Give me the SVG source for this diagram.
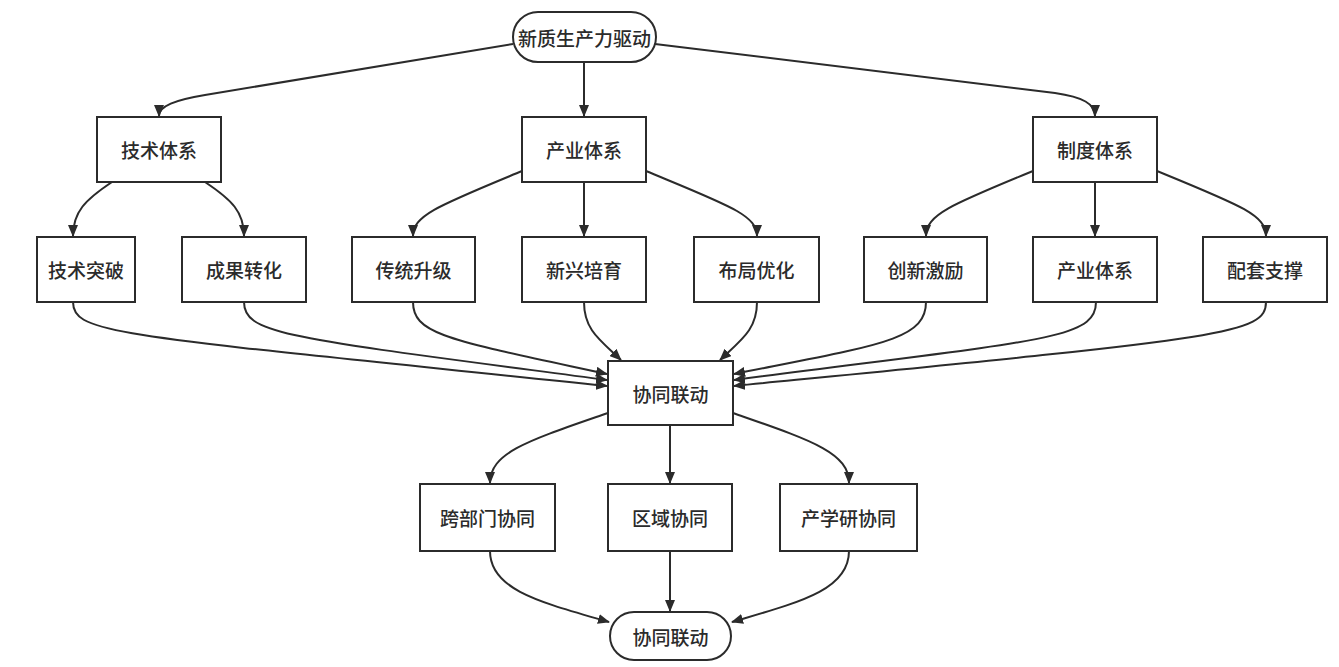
<svg xmlns="http://www.w3.org/2000/svg" width="1339" height="667" viewBox="0 0 1339 667">
<defs>
<marker id="ah" markerUnits="userSpaceOnUse" markerWidth="12" markerHeight="10" refX="11" refY="5" orient="auto">
<path d="M0,0 L12,5 L0,10 z" fill="#2b2b2b"/>
</marker>
<style>
.n rect{fill:#fff;stroke:#2b2b2b;stroke-width:2}
.n text{font-family:"Noto Sans CJK SC","Noto Sans",sans-serif;font-size:19px;font-weight:500;fill:#2b2b2b;text-anchor:middle;dominant-baseline:central}
.e path{fill:none;stroke:#2b2b2b;stroke-width:2;marker-end:url(#ah)}
</style>
</defs>
<rect width="1339" height="667" fill="#fff"/>
<g class="e" id="connectors">
<path d="M513,44 L205,95 C175,100 159,106 159,116"/>
<path d="M584,62 V116"/>
<path d="M655,44 L1055,93 C1083,97 1095,104 1095,116"/>
<path d="M112,182 C85,200 73,212 73,236"/>
<path d="M205,182 C232,200 244,212 244,236"/>
<path d="M522,171 C440,205 413,215 413,236"/>
<path d="M584,182 V236"/>
<path d="M646,171 C728,205 757,215 757,236"/>
<path d="M1033,171 C950,205 926,215 926,236"/>
<path d="M1095,182 V236"/>
<path d="M1157,171 C1240,205 1266,215 1266,236"/>
<path d="M73,302 C73,335 120,335 607,386"/>
<path d="M244,302 C244,335 290,338 607,380"/>
<path d="M413,302 C413,335 450,340 607,374"/>
<path d="M584,302 C584,330 600,340 621,360"/>
<path d="M757,302 C757,330 741,340 720,360"/>
<path d="M926,302 C926,340 880,345 734,374"/>
<path d="M1096,302 C1096,340 1040,340 734,380"/>
<path d="M1266,302 C1266,335 1220,338 734,386"/>
<path d="M608,413 C530,440 490,452 490,483"/>
<path d="M670,425 V483"/>
<path d="M733,413 C810,440 849,452 849,483"/>
<path d="M490,551 C490,590 540,602 609,622"/>
<path d="M670,551 V611"/>
<path d="M849,551 C849,590 800,602 732,622"/>
</g>
<g class="n" id="n-top"><rect x="513" y="12" width="143" height="50" rx="25"/><text x="584.5" y="37">新质生产力驱动</text></g>
<g class="n" id="n-jstx"><rect x="97" y="117" width="124" height="65"/><text x="159" y="149.5">技术体系</text></g>
<g class="n" id="n-cytx"><rect x="522" y="117" width="124" height="65"/><text x="584" y="149.5">产业体系</text></g>
<g class="n" id="n-zdtx"><rect x="1033" y="117" width="124" height="65"/><text x="1095" y="149.5">制度体系</text></g>
<g class="n" id="n-jstp"><rect x="37" y="237" width="98" height="65"/><text x="86" y="269.5">技术突破</text></g>
<g class="n" id="n-cgzh"><rect x="182" y="237" width="124" height="65"/><text x="244" y="269.5">成果转化</text></g>
<g class="n" id="n-ctsj"><rect x="352" y="237" width="123" height="65"/><text x="413.5" y="269.5">传统升级</text></g>
<g class="n" id="n-xxpy"><rect x="522" y="237" width="124" height="65"/><text x="584" y="269.5">新兴培育</text></g>
<g class="n" id="n-bjyh"><rect x="694" y="237" width="125" height="65"/><text x="756.5" y="269.5">布局优化</text></g>
<g class="n" id="n-cxjl"><rect x="864" y="237" width="123" height="65"/><text x="925.5" y="269.5">创新激励</text></g>
<g class="n" id="n-cytx2"><rect x="1033" y="237" width="124" height="65"/><text x="1095" y="269.5">产业体系</text></g>
<g class="n" id="n-ptzc"><rect x="1203" y="237" width="124" height="65"/><text x="1265" y="269.5">配套支撑</text></g>
<g class="n" id="n-xtld"><rect x="608" y="361" width="125" height="64"/><text x="670.5" y="393">协同联动</text></g>
<g class="n" id="n-kbm"><rect x="420" y="484" width="135" height="67"/><text x="487.5" y="517.5">跨部门协同</text></g>
<g class="n" id="n-qy"><rect x="608" y="484" width="124" height="67"/><text x="670" y="517.5">区域协同</text></g>
<g class="n" id="n-cxy"><rect x="780" y="484" width="137" height="67"/><text x="848.5" y="517.5">产学研协同</text></g>
<g class="n" id="n-end"><rect x="610" y="612" width="121" height="48" rx="24"/><text x="670.5" y="636">协同联动</text></g>
</svg>
